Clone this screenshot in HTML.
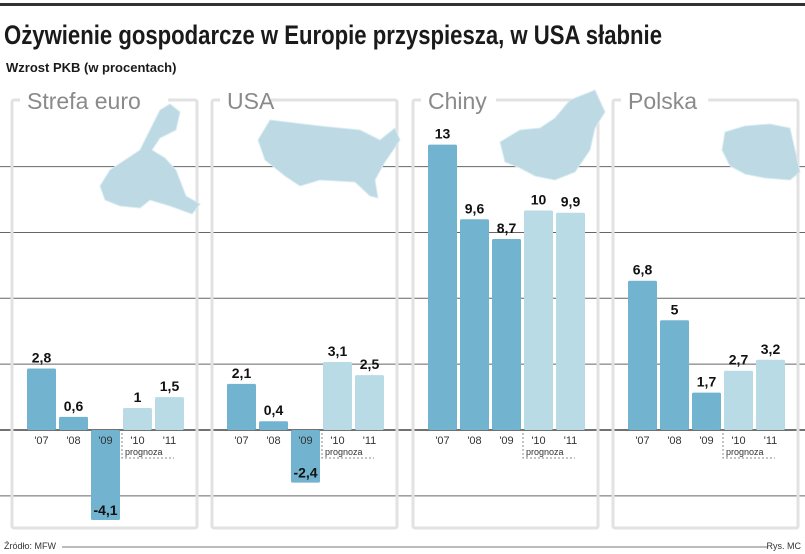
<!DOCTYPE html>
<html><head><meta charset="utf-8">
<style>
body{margin:0;background:#fff;width:805px;height:554px;overflow:hidden;font-family:"Liberation Sans",sans-serif}
svg{display:block}
</style></head><body>
<svg id="c" width="805" height="554">
<rect x="0" y="3" width="805" height="3" fill="#333"/>
<text x="4" y="44" font-size="27" font-weight="bold" fill="#1a1a1a" textLength="658" lengthAdjust="spacingAndGlyphs">Ożywienie gospodarcze w Europie przyspiesza, w USA słabnie</text>
<text x="6" y="72" font-size="13" font-weight="bold" fill="#1a1a1a">Wzrost PKB (w procentach)</text>
<g id="grid"></g>
<g id="panels"></g>
<text x="4" y="549" font-size="9" fill="#333">Źródło: MFW</text>
<line x1="62" y1="547" x2="768" y2="547" stroke="#777" stroke-width="1"/>
<text x="801" y="549" font-size="9" fill="#333" text-anchor="end">Rys. MC</text>
</svg>
<script>
const regions=["Strefa euro","USA","Chiny","Polska"];
const years=["'07","'08","'09","'10","'11"];
const euroValues=[2.8,0.6,-4.1,1,1.5];
const usaValues=[2.1,0.4,-2.4,3.1,2.5];
const chinaValues=[13,9.6,8.7,10,9.9];
const polandValues=[6.8,5,1.7,2.7,3.2];
const valueLabels=[["2,8","0,6","-4,1","1","1,5"],["2,1","0,4","-2,4","3,1","2,5"],["13","9,6","8,7","10","9,9"],["6,8","5","1,7","2,7","3,2"]];
const gridTicks=[-3,0,3,6,9,12];
const allValues=[euroValues,usaValues,chinaValues,polandValues];
const NS="http://www.w3.org/2000/svg";
const y0=430,unit=21.95;
function y(v){return y0-v*unit;}
function mk(t,a,p){const e=document.createElementNS(NS,t);for(const k in a)e.setAttribute(k,a[k]);p.appendChild(e);return e;}
const grid=document.getElementById('grid'),panels=document.getElementById('panels');
const panelX=[12,212,413,613],panelW=185;
// panel frames
panelX.forEach((px,i)=>{
  const g=mk('g',{},panels);
  
  
  const f=mk('rect',{x:px,y:100,width:panelW,height:428,fill:'none',stroke:'#e2e2e2','stroke-width':3,rx:2},g);
  
  
  const w=regions[i].length*12.2+14;
  mk('rect',{x:px+8,y:88,width:w,height:20,fill:'#fff'},g);
  const t=mk('text',{x:px+15,y:109,'font-size':23,fill:'#8a8a8a'},g);
  t.textContent=regions[i];
  
  
});
// maps (rough blobs)
const mapPaths=["M160 110 L170 104 L180 112 L176 130 L160 138 L152 150 L165 158 L176 170 L186 196 L200 204 L192 214 L170 206 L150 200 L140 208 L120 206 L105 200 L100 186 L110 170 L125 160 L140 150 L150 130 Z",
"M270 120 L320 126 L360 130 L380 140 L395 128 L400 140 L385 162 L375 180 L378 198 L370 196 L355 182 L320 180 L300 186 L285 176 L265 160 L258 140 Z",
"M500 142 L520 130 L540 128 L555 118 L570 100 L595 90 L605 112 L595 128 L590 150 L575 172 L555 180 L535 176 L520 168 L505 162 Z",
"M725 132 L745 126 L770 124 L790 128 L795 150 L800 172 L790 180 L765 178 L745 174 L730 166 L722 150 Z"];
mapPaths.forEach((d,i)=>{const p=mk('path',{d,fill:'#bcd9e4',stroke:'#d8ebf1','stroke-width':1},panels);

});
// gridlines
gridTicks.forEach(v=>{
  const l=mk('line',{x1:0,x2:805,y1:y(v),y2:y(v),stroke:v===0?'#444':'#666','stroke-width':v===0?1.6:1},grid);
  
  
});
// bars
const barOff=[15,47,79,111,143],bw=29;
allValues.forEach((vals,pi)=>{
  const px=panelX[pi];
  vals.forEach((v,j)=>{
    const bx=px+barOff[j];
    const top=Math.min(y(v),y0),h=Math.abs(y(v)-y0);
    const r=mk('rect',{x:bx,y:top,width:bw,height:h,fill:j<3?'#72b4cf':'#b8dbe6',rx:1.5},panels);
    
    
    const ly=v>=0?y(v)-6:y(v)-5;
    const t=mk('text',{x:bx+bw/2,y:ly,'font-size':14,'font-weight':'bold','text-anchor':'middle',fill:'#111'},panels);
    t.textContent=valueLabels[pi][j];
    
    
    const yl=mk('text',{x:bx+bw/2,y:444,'font-size':11,'text-anchor':'middle',fill:'#333'},panels);
    yl.textContent=years[j];
    
    
  });
  const fx=px+barOff[3]-1;
  const fp=mk('path',{d:`M${fx} 433 V458 H${fx+52}`,fill:'none',stroke:'#888','stroke-dasharray':'2,2'},panels);
  
  
  const ft=mk('text',{x:fx+3,y:455,'font-size':9,fill:'#333'},panels);
  ft.textContent='prognoza';
  
  
});
</script>
</body></html>
